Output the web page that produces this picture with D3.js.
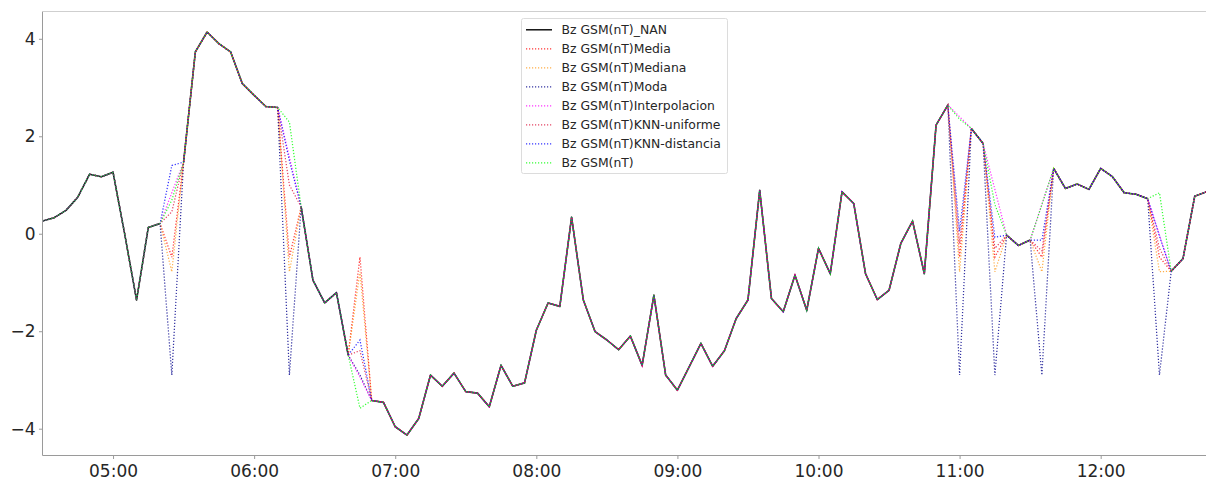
<!DOCTYPE html>
<html>
<head>
<meta charset="utf-8">
<script src="https://cdn.jsdelivr.net/npm/d3@7"></script>
<style>
  body { margin: 0; background: #fff; }
  svg { display: block; font-family: "DejaVu Sans", sans-serif; }
</style>
</head>
<body>
<script>
// 5-minute samples, 04:30 -> 12:45
var startTime = '04:30',
    stepMinutes = 5;

// Bz with the missing samples (null)
var bzNan = [
  0.26, 0.33, 0.48, 0.75, 1.22, 1.17, 1.26, -0.02, -1.36, 0.13,
  0.21, null, 1.47, 3.73, 4.14, 3.90, 3.73, 3.08, 2.84, 2.61,
  2.59, null, 0.55, -0.95, -1.42, -1.21, -2.49, null, -3.42, -3.46,
  -3.96, -4.13, -3.79, -2.90, -3.13, -2.86, -3.24, -3.27, -3.55, -2.70,
  -3.13, -3.06, -1.98, -1.42, -1.49, 0.34, -1.36, -2.01, -2.18, -2.38,
  -2.10, -2.70, -1.26, -2.90, -3.21, -2.73, -2.25, -2.72, -2.40, -1.74,
  -1.36, 0.89, -1.33, -1.60, -0.85, -1.57, -0.30, -0.82, 0.86, 0.62,
  -0.82, -1.35, -1.16, -0.20, 0.26, -0.82, 2.23, 2.64, null, 2.16,
  1.85, null, -0.03, -0.24, -0.13, null, 1.34, 0.93, 1.02, 0.91,
  1.34, 1.17, 0.84, 0.81, 0.72, null, -0.77, -0.51, 0.77, 0.86
];

// values each method puts into the gaps
var gapIndex      = [11, 21, 27, 78, 81, 85, 95];
var media         = [-0.48, -0.48, -0.48, -0.48, -0.48, -0.48, -0.48];
var mediana       = [-0.78, -0.78, -0.78, -0.78, -0.78, -0.78, -0.78];
var moda          = [-2.90, -2.90, -2.90, -2.90, -2.90, -2.90, -2.90];
var interpolacion = [0.84, 1.57, -2.94, 2.40, 0.91, 0.60, -0.03];
var knnUniforme   = [0.45, 1.00, -2.40, -0.20, -0.30, -0.35, -0.30];
var knnDistancia  = [1.40, 1.50, -2.18, 0.05, -0.07, -0.13, -0.05];
var original      = [0.69, 2.29, -3.58, 2.35, 0.60, 0.60, 0.84];

var yTicks = [-4, -2, 0, 2, 4];
var xTicks = ['05:00', '06:00', '07:00', '08:00', '09:00', '10:00', '11:00', '12:00'];

var series = [
  { name: 'Bz GSM(nT)Media',         color: '#ff0000', gaps: media },
  { name: 'Bz GSM(nT)Mediana',       color: '#ff9a1a', gaps: mediana },
  { name: 'Bz GSM(nT)Moda',          color: '#00008b', gaps: moda },
  { name: 'Bz GSM(nT)Interpolacion', color: '#ff00ff', gaps: interpolacion },
  { name: 'Bz GSM(nT)KNN-uniforme',  color: '#dc143c', gaps: knnUniforme },
  { name: 'Bz GSM(nT)KNN-distancia', color: '#0000ff', gaps: knnDistancia },
  { name: 'Bz GSM(nT)',              color: '#00ff00', gaps: original }
];

var width = 1206, height = 480;
var plotLeft = 42.5, plotRight = 1206.5, plotTop = 11.5, plotBottom = 455.5;

var parse = d3.timeParse('%H:%M');
var t0 = parse(startTime);
var times = bzNan.map(function(d, i) { return d3.timeMinute.offset(t0, i * stepMinutes); });

series.forEach(function(s) {
  s.values = bzNan.slice();
  gapIndex.forEach(function(g, k) { s.values[g] = s.gaps[k]; });
});

var x = d3.scaleTime()
  .domain([times[0], times[times.length - 1]])
  .range([plotLeft, plotRight]);

var y = d3.scaleLinear()
  .domain([-4.55, 4.56])
  .range([plotBottom, plotTop]);

var svg = d3.select('body')
  .append('svg')
  .attr('width', width)
  .attr('height', height);

svg.append('clipPath')
  .attr('id', 'plot')
  .append('rect')
  .attr('x', plotLeft).attr('y', plotTop)
  .attr('width', plotRight - plotLeft).attr('height', plotBottom - plotTop);

var line = d3.line()
  .defined(function(d) { return d != null; })
  .x(function(d, i) { return x(times[i]); })
  .y(function(d) { return y(d); });

var lines = svg.append('g').attr('clip-path', 'url(#plot)');

lines.append('path')
  .datum(bzNan)
  .attr('d', line)
  .attr('fill', 'none')
  .attr('stroke', '#222')
  .attr('stroke-width', 1.6)
  .attr('stroke-linejoin', 'round');

lines.selectAll('.imp')
  .data(series)
  .enter().append('path')
  .attr('class', 'imp')
  .attr('d', function(s) { return line(s.values); })
  .attr('fill', 'none')
  .attr('stroke', function(s) { return s.color; })
  .attr('stroke-width', 1.25)
  .attr('stroke-dasharray', '1.2,1.8')
  .attr('stroke-opacity', 0.8);

// spines
var spine = '#9a9a9a';
svg.append('line').attr('x1', plotLeft).attr('x2', plotLeft).attr('y1', plotTop).attr('y2', plotBottom).attr('stroke', spine);
svg.append('line').attr('x1', plotLeft).attr('x2', width).attr('y1', plotTop).attr('y2', plotTop).attr('stroke', '#cfcfcf');
svg.append('line').attr('x1', plotLeft).attr('x2', width).attr('y1', plotBottom).attr('y2', plotBottom).attr('stroke', spine);

var yAxis = svg.append('g')
  .attr('transform', 'translate(' + plotLeft + ',0)')
  .call(d3.axisLeft(y).tickValues(yTicks).tickSize(3.5).tickSizeOuter(0).tickPadding(3.5));

var xAxis = svg.append('g')
  .attr('transform', 'translate(0,' + plotBottom + ')')
  .call(d3.axisBottom(x)
    .tickValues(xTicks.map(parse))
    .tickFormat(d3.timeFormat('%H:%M'))
    .tickSize(3.5).tickSizeOuter(0).tickPadding(5.5));

[yAxis, xAxis].forEach(function(a) {
  a.select('.domain').remove();
  a.selectAll('line').attr('stroke', spine);
  a.selectAll('text')
    .attr('fill', '#262626')
    .style('font-size', '17px')
    .style('font-family', '"DejaVu Sans", sans-serif');
});

// legend
var legendItems = [{ name: 'Bz GSM(nT)_NAN', color: '#000', solid: true }].concat(series);

var legend = svg.append('g');
legend.append('rect')
  .attr('x', 521.5).attr('y', 18.5)
  .attr('width', 206).attr('height', 155)
  .attr('rx', 2)
  .attr('fill', '#fff').attr('fill-opacity', 0.8)
  .attr('stroke', '#dcdcdc');

var item = legend.selectAll('.item')
  .data(legendItems)
  .enter().append('g')
  .attr('transform', function(d, i) { return 'translate(0,' + (29.8 + i * 19) + ')'; });

item.append('line')
  .attr('x1', 526).attr('x2', 552)
  .attr('stroke', function(d) { return d.color; })
  .attr('stroke-width', function(d) { return d.solid ? 1.4 : 1.25; })
  .attr('stroke-dasharray', function(d) { return d.solid ? null : '1.2,1.8'; })
  .attr('stroke-opacity', function(d) { return d.solid ? 1 : 0.8; });

item.append('text')
  .attr('x', 561.5)
  .attr('dy', '0.36em')
  .attr('fill', '#262626')
  .style('font-size', '12.4px')
  .text(function(d) { return d.name; });
</script>
</body>
</html>
